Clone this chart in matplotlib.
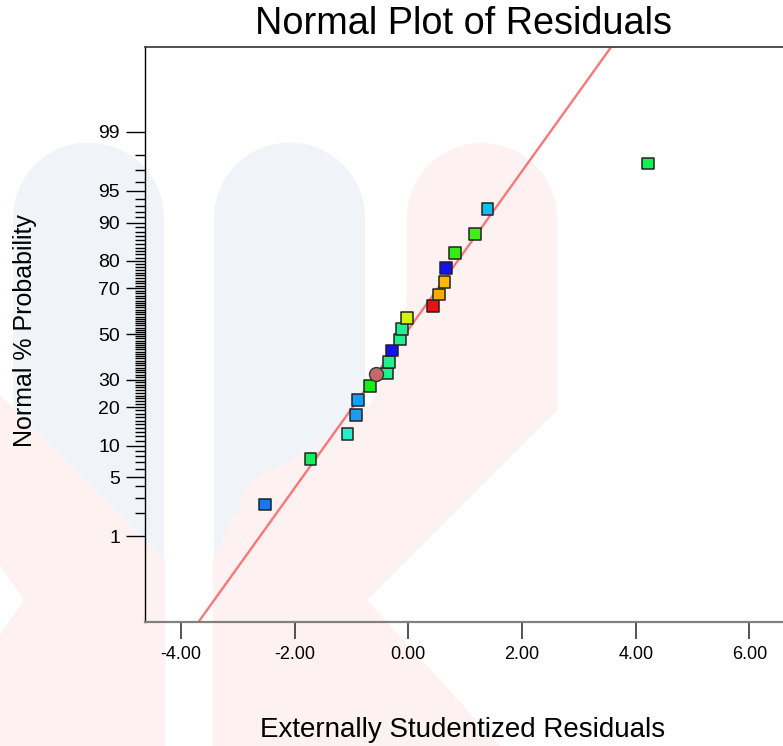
import numpy as np
import matplotlib
matplotlib.use("Agg")
import matplotlib.pyplot as plt
from matplotlib.patches import Polygon, Rectangle
from matplotlib.ticker import FixedLocator, NullFormatter
from statistics import NormalDist

plt.rcParams['font.family'] = ['Liberation Sans', 'DejaVu Sans']

# Externally studentized residuals, sorted, and their normal % probability
residuals = [-2.516, -1.718, -1.067, -0.914, -0.891, -0.680, -0.368, -0.345,
             -0.292, -0.139, -0.116, -0.028, 0.437, 0.535, 0.636, 0.658,
             0.824, 1.169, 1.393, 4.222]
probability = [2.5, 7.5, 12.5, 17.5, 22.5, 27.5, 32.5, 37.5, 42.5, 47.5,
               52.5, 57.5, 62.5, 67.5, 72.5, 77.5, 82.5, 87.5, 92.5, 97.5]
point_colors = ['#1778e6', '#12f05e', '#22f0c8', '#1a9cf0', '#12a0f8',
                '#14f014', '#22f08e', '#22f08e', '#1212f0', '#22f08e',
                '#22f08e', '#d6f012', '#f01010', '#ffa800', '#ffb800',
                '#1212f0', '#30f010', '#40f010', '#12bef0', '#12f052']

# highlighted run (circle)
circle_x = [-0.574]
circle_p = [32.5]

# reference line ends (residual, % probability)
line_x = [-3.69, 3.57]
line_p = [0.0466, 99.952]

major_ticks = [1, 5, 10, 20, 30, 50, 70, 80, 90, 95, 99]
x_ticks = [-4, -2, 0, 2, 4, 6]

nd = NormalDist()
_ppf = np.vectorize(nd.inv_cdf, otypes=[float])
_cdf = np.vectorize(nd.cdf, otypes=[float])


def probit(p):
    p = np.clip(np.asarray(p, dtype=float) / 100.0, 1e-12, 1 - 1e-12)
    return _ppf(p)


def inv_probit(z):
    return _cdf(np.asarray(z, dtype=float)) * 100.0


W, H = 783, 746
fig = plt.figure(figsize=(W / 100, H / 100), dpi=100)


# faint watermark in the background (pixel coords, y down)
def fxy(pts):
    return [(x / W, 1 - y / H) for x, y in pts]


blue = '#f0f4f8'
pink = '#fef1f1'
for x0 in (13, 214):
    fig.add_artist(Rectangle((x0 / W, 0), 151 / W, (H - 218) / H,
                             transform=fig.transFigure, color=blue,
                             zorder=-3, lw=0))
    fig.add_artist(Polygon(fxy([(x0 + 75.5 + 75.5 * np.cos(t), 218 - 75.5 * np.sin(t))
                                for t in np.linspace(0, np.pi, 40)]),
                           transform=fig.transFigure, color=blue, zorder=-3, lw=0))
arm = [(557, 218), (557, 410), (367, 600), (500, 746), (213, 746), (213, 560),
       (250, 480), (300, 455), (340, 428), (370, 405), (392, 360), (407, 300),
       (407, 218)]
arm += [(482 + 75 * np.cos(t), 218 - 75 * np.sin(t)) for t in np.linspace(np.pi, 0, 40)]
fig.add_artist(Polygon(fxy(arm), transform=fig.transFigure, color=pink,
                       zorder=-2, lw=0))
fig.add_artist(Polygon(fxy([(0, 395), (165, 560), (165, 746), (0, 746)]),
                       transform=fig.transFigure, color=pink, zorder=-2, lw=0))
fig.add_artist(Polygon(fxy([(0, 565), (24, 600), (0, 635)]),
                       transform=fig.transFigure, color='white', zorder=-1, lw=0))

ax = fig.add_axes([145 / W, 1 - 622 / H, (W - 145) / W, (622 - 47) / H])
ax.set_facecolor('none')
ax.set_yscale('function', functions=(probit, inv_probit))

ax.plot(line_x, line_p, color='#f87878', lw=1.7, zorder=2, solid_capstyle='butt')
ax.scatter(residuals, probability, marker='s', s=72, c=point_colors,
           edgecolors='#222222', linewidths=1.1, zorder=3)
ax.scatter(circle_x, circle_p, marker='o', s=100, c='#c46a6a',
           edgecolors='#333333', linewidths=1.0, zorder=4)

ax.set_xlim(-4.63, 6.59)
ax.set_ylim(inv_probit(-3.31), inv_probit(3.30))

ax.yaxis.set_major_locator(FixedLocator(major_ticks))
ax.yaxis.set_minor_locator(FixedLocator([v for v in range(2, 99) if v not in major_ticks]))
ax.yaxis.set_minor_formatter(NullFormatter())
ax.set_yticklabels([str(v) for v in major_ticks])
ax.tick_params(axis='y', which='major', length=14, width=1, color='black',
               labelsize=14, pad=4)
ax.tick_params(axis='y', which='minor', length=7, width=1, color='black')

ax.set_xticks(x_ticks)
ax.set_xticklabels([f"{v:.2f}" for v in x_ticks])
ax.tick_params(axis='x', which='major', length=12, width=1.3, color='#444444',
               labelsize=13, pad=5)

ax.spines['right'].set_visible(False)
ax.spines['left'].set_color('black')
ax.spines['left'].set_linewidth(1.0)
ax.spines['top'].set_color('#333333')
ax.spines['top'].set_linewidth(1.2)
ax.spines['bottom'].set_color('#808080')
ax.spines['bottom'].set_linewidth(1.6)

fig.text(463.5 / W, 1 - 24 / H, "Normal Plot of Residuals", fontsize=27.3,
         ha='center', va='center')
fig.text(462.5 / W, 1 - 730 / H, "Externally Studentized Residuals", fontsize=20,
         ha='center', va='center')
fig.text(25 / W, 1 - 331 / H, "Normal % Probability", fontsize=18,
         rotation=90, ha='center', va='center')

fig.savefig("out.png", dpi=100)
